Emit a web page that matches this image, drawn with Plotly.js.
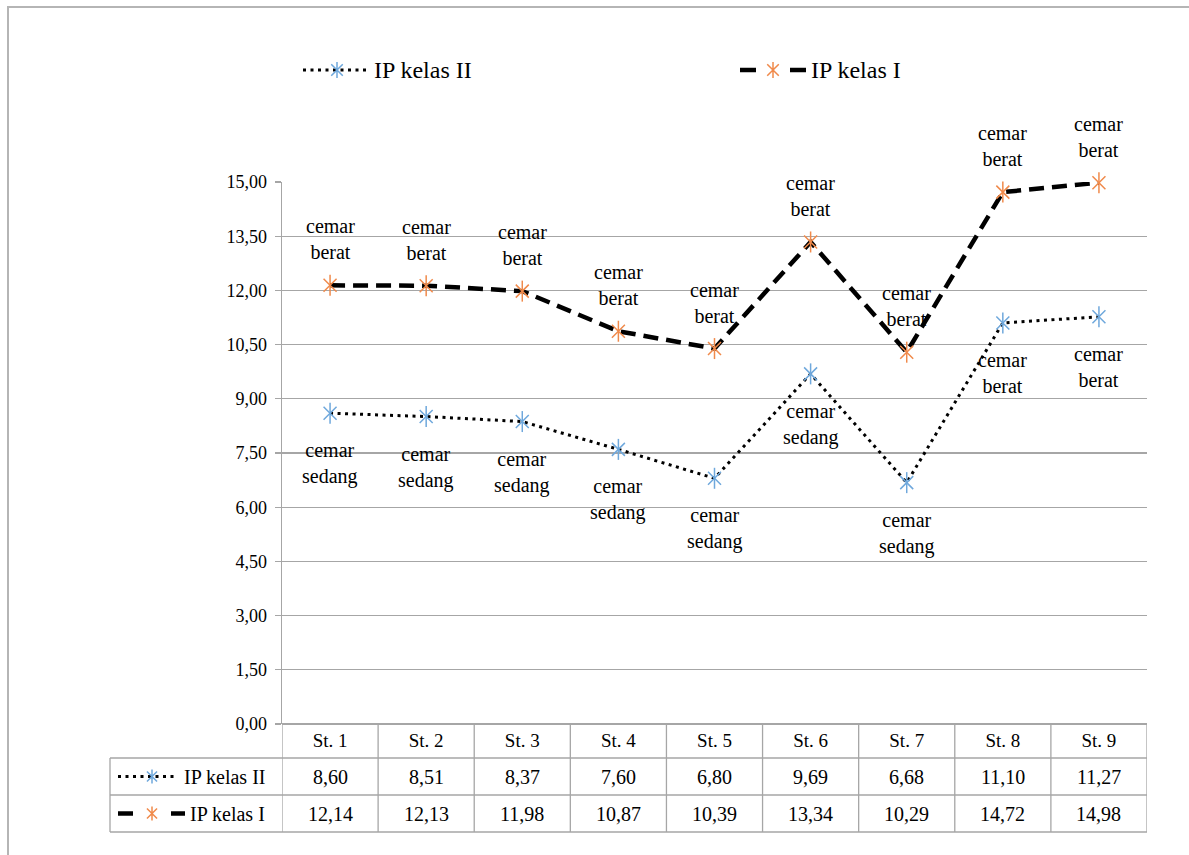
<!DOCTYPE html>
<html>
<head>
<meta charset="utf-8">
<script src="https://cdn.plot.ly/plotly-3.0.1.min.js"></script>
<style>
  html, body { margin: 0; padding: 0; background: #ffffff; }
  body { width: 1189px; height: 855px; overflow: hidden; position: relative; }
  #frame {
    position: absolute; left: 7px; top: 6px; width: 1300px; height: 900px;
    border-left: 2px solid #b5b5b5; border-top: 2px solid #b5b5b5;
  }
  #chart { position: absolute; left: 0; top: 0; width: 1189px; height: 855px; }
</style>
</head>
<body>
<div id="frame"></div>
<div id="chart"></div>
<script>
// Stations and pollution index values
const categories = ['St. 1', 'St. 2', 'St. 3', 'St. 4', 'St. 5', 'St. 6', 'St. 7', 'St. 8', 'St. 9'];
const ipKelasII = [8.60, 8.51, 8.37, 7.60, 6.80, 9.69, 6.68, 11.10, 11.27];
const ipKelasI = [12.14, 12.13, 11.98, 10.87, 10.39, 13.34, 10.29, 14.72, 14.98];
const statusKelasII = ['cemar sedang', 'cemar sedang', 'cemar sedang', 'cemar sedang', 'cemar sedang',
                       'cemar sedang', 'cemar sedang', 'cemar berat', 'cemar berat'];
const statusKelasI = ['cemar berat', 'cemar berat', 'cemar berat', 'cemar berat', 'cemar berat',
                      'cemar berat', 'cemar berat', 'cemar berat', 'cemar berat'];
const seriesNames = ['IP kelas II', 'IP kelas I'];

// Layout geometry (pixels)
const W = 1189, H = 855;
const L = 282, R = 1147, T = 182, B = 724;
const rowBottoms = [758, 795, 832];   // header row, kelas II row, kelas I row
const tableLeft = 110;

const FONT = 'Liberation Serif, Times New Roman, serif';
const GRID = '#a6a6a6';
const BLUE = '#6fa8dc';
const ORANGE = '#f08a4b';
const DOT = '3px,4.5px';
const DASH = '15px,8px';

const paperX = px => (px - L) / (R - L);
const paperY = py => (B - py) / (B - T);
const fmt = v => v.toFixed(2).replace('.', ',');

// Line traces with a six-armed star marker (X + vertical bar)
function series(name, values, dash, width, color) {
  return [
    {
      type: 'scatter', mode: 'lines+markers', name: name, x: categories, y: values,
      line: { color: '#000000', width: width, dash: dash },
      marker: { symbol: 'x-thin-open', size: 13, color: color, line: { color: color, width: 1.5 } },
      cliponaxis: false, showlegend: false
    },
    {
      type: 'scatter', mode: 'markers', name: name, x: categories, y: values,
      marker: { symbol: 'line-ns-open', size: 15, color: color, line: { color: color, width: 1.5 } },
      cliponaxis: false, showlegend: false, hoverinfo: 'skip'
    }
  ];
}

const traces = [
  ...series(seriesNames[0], ipKelasII, DOT, 3, BLUE),
  ...series(seriesNames[1], ipKelasI, DASH, 4.5, ORANGE)
];

const annotations = [];
const shapes = [];

// Status labels: above the kelas I points, below the kelas II points
categories.forEach((c, i) => {
  annotations.push({
    x: c, y: ipKelasI[i], xref: 'x', yref: 'y', text: statusKelasI[i].replace(' ', '<br>'),
    showarrow: false, yanchor: 'bottom', yshift: 20,
    font: { family: FONT, size: 20, color: '#000' }
  });
  annotations.push({
    x: c, y: ipKelasII[i], xref: 'x', yref: 'y', text: statusKelasII[i].replace(' ', '<br>'),
    showarrow: false, yanchor: 'top', yshift: -24,
    font: { family: FONT, size: 20, color: '#000' }
  });
});

// Star symbol drawn as a path (used by the legend and table keys)
function starPath(cx, cy, r, color) {
  const dx = r * 0.72 / (R - L), dy = r * 0.72 / (B - T), ry = r / (B - T);
  const p = `M${cx},${cy - ry} L${cx},${cy + ry} M${cx - dx},${cy - dy} L${cx + dx},${cy + dy} ` +
            `M${cx - dx},${cy + dy} L${cx + dx},${cy - dy}`;
  return { type: 'path', xref: 'paper', yref: 'paper', path: p, line: { color: color, width: 1.5 } };
}
function hline(x0, x1, y, width, dash) {
  return { type: 'line', xref: 'paper', yref: 'paper', x0: paperX(x0), x1: paperX(x1),
    y0: paperY(y), y1: paperY(y), line: { color: '#000', width: width, dash: dash || 'solid' } };
}
function label(text, x, y, size) {
  return { x: paperX(x), y: paperY(y), xref: 'paper', yref: 'paper', text: text, showarrow: false,
    xanchor: 'left', yanchor: 'middle', font: { family: FONT, size: size, color: '#000' } };
}

// Legend above the plot
const legendY = 70;
shapes.push(hline(303, 370, legendY, 3, DOT));
shapes.push(starPath(paperX(337), paperY(legendY), 8, BLUE));
annotations.push(label(seriesNames[0], 372, legendY, 24));
shapes.push(hline(740, 756, legendY, 4.5));
shapes.push(hline(790, 806, legendY, 4.5));
shapes.push(starPath(paperX(773), paperY(legendY), 8, ORANGE));
annotations.push(label(seriesNames[1], 809, legendY, 24));

// Data table under the axis
const rowCenters = [(rowBottoms[0] + rowBottoms[1]) / 2, (rowBottoms[1] + rowBottoms[2]) / 2];
[ipKelasII, ipKelasI].forEach((vals, r) => {
  vals.forEach((v, i) => {
    annotations.push({
      x: categories[i], y: paperY(rowCenters[r]), xref: 'x', yref: 'paper', text: fmt(v),
      showarrow: false, yanchor: 'middle', font: { family: FONT, size: 20, color: '#000' }
    });
  });
});
annotations.push(label(seriesNames[0], 182, rowCenters[0], 20));
annotations.push(label(seriesNames[1], 188, rowCenters[1], 20));

// Table grid lines
rowBottoms.forEach(yb => {
  shapes.push({ type: 'line', xref: 'paper', yref: 'paper', x0: paperX(tableLeft), x1: 1,
    y0: paperY(yb), y1: paperY(yb), line: { color: GRID, width: 1.3 } });
});
shapes.push({ type: 'line', xref: 'paper', yref: 'paper', x0: paperX(tableLeft), x1: paperX(tableLeft),
  y0: paperY(rowBottoms[0]), y1: paperY(rowBottoms[2]), line: { color: GRID, width: 1.3 } });
for (let k = 0; k <= categories.length; k++) {
  shapes.push({ type: 'line', xref: 'x', yref: 'paper', x0: k - 0.5, x1: k - 0.5,
    y0: 0, y1: paperY(rowBottoms[2]), line: { color: GRID, width: 1.3 } });
}

// Row keys in the table
shapes.push(hline(118, 178, rowCenters[0], 3, DOT));
shapes.push(starPath(paperX(152), paperY(rowCenters[0]), 7, BLUE));
shapes.push(hline(118, 133, rowCenters[1], 4.5));
shapes.push(hline(171, 185, rowCenters[1], 4.5));
shapes.push(starPath(paperX(152), paperY(rowCenters[1]), 7, ORANGE));

const layout = {
  width: W, height: H,
  margin: { l: L, r: W - R, t: T, b: H - B, pad: 0, autoexpand: false },
  paper_bgcolor: 'rgba(0,0,0,0)', plot_bgcolor: 'rgba(0,0,0,0)',
  separators: ',.',
  font: { family: FONT, color: '#000' },
  showlegend: false,
  xaxis: {
    type: 'category', range: [-0.5, categories.length - 0.5],
    showgrid: false, zeroline: false, showline: false, ticks: '',
    tickfont: { family: FONT, size: 19, color: '#000' }, ticklabelstandoff: 3, fixedrange: true
  },
  yaxis: {
    range: [0, 15], dtick: 1.5, tick0: 0, tickformat: '.2f',
    showgrid: true, gridcolor: GRID, gridwidth: 1.3, zeroline: true, zerolinecolor: GRID, zerolinewidth: 1.3,
    showline: true, linecolor: GRID, linewidth: 1.3,
    ticks: 'outside', ticklen: 6, tickcolor: GRID, tickwidth: 1.3,
    tickfont: { family: FONT, size: 18, color: '#000' }, ticklabelstandoff: 4, fixedrange: true
  },
  annotations: annotations,
  shapes: shapes
};

Plotly.newPlot('chart', traces, layout, { displayModeBar: false, staticPlot: true });
</script>
</body>
</html>
